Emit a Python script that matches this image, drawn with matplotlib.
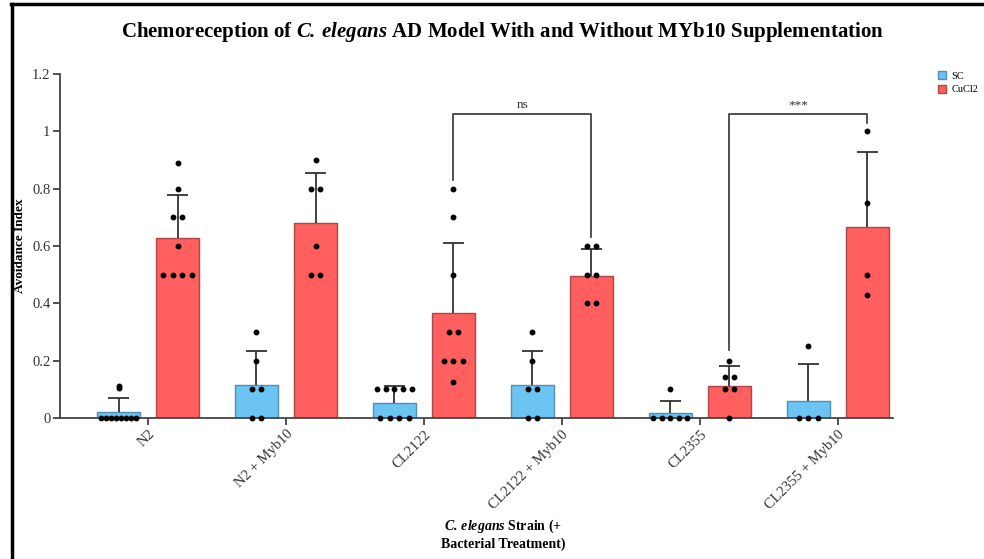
import matplotlib.pyplot as plt
from matplotlib.lines import Line2D
from matplotlib.patches import Patch

plt.rcParams['font.family'] = ['Liberation Serif', 'DejaVu Serif']
plt.rcParams['mathtext.fontset'] = 'custom'
plt.rcParams['mathtext.rm'] = 'Liberation Serif'
plt.rcParams['mathtext.it'] = 'Liberation Serif:italic'
plt.rcParams['mathtext.bf'] = 'Liberation Serif:bold'
plt.rcParams['mathtext.bfit'] = 'Liberation Serif:italic:bold'

# 数据
strains = ['N2', 'N2 + Myb10', 'CL2122', 'CL2122 + Myb10', 'CL2355', 'CL2355 + Myb10']
sc_mean = [0.02, 0.114, 0.053, 0.114, 0.016, 0.06]
sc_err = [0.05, 0.12, 0.057, 0.12, 0.042, 0.128]
cu_mean = [0.627, 0.679, 0.367, 0.496, 0.113, 0.668]
cu_err = [0.152, 0.174, 0.242, 0.092, 0.07, 0.26]
sc_dots = [
    [0, 0, 0, 0, 0, 0, 0, 0, 0.105, 0.11],
    [0.3, 0.2, 0.1, 0.1, 0, 0],
    [0.1, 0.1, 0.1, 0.1, 0.1, 0, 0, 0, 0],
    [0.3, 0.2, 0.1, 0.1, 0, 0],
    [0.1, 0, 0, 0, 0, 0],
    [0.25, 0, 0, 0],
]
cu_dots = [
    [0.89, 0.8, 0.7, 0.7, 0.6, 0.5, 0.5, 0.5, 0.5],
    [0.9, 0.8, 0.8, 0.6, 0.5, 0.5],
    [0.8, 0.7, 0.5, 0.3, 0.3, 0.2, 0.2, 0.2, 0.125],
    [0.6, 0.6, 0.5, 0.5, 0.4, 0.4],
    [0.2, 0.143, 0.143, 0.1, 0.1, 0],
    [1.0, 0.75, 0.5, 0.43],
]
# 显著性标记: (左组, 左系列, 右组, 右系列, 高度, 左脚, 右脚, 文字)
sig = [
    (2, 1, 3, 1, 1.06, 0.83, 0.632, 'ns'),
    (4, 1, 5, 1, 1.06, 0.237, 1.03, '***'),
]

blue = '#6cc4f2'
red = '#ff5f5f'
w = 0.31
off = 0.214
cap = 0.075

fig = plt.figure(figsize=(9.84, 5.59), dpi=100)
ax = fig.add_axes([0.061, 0.2522, 0.8465, 0.6154])

x = list(range(len(strains)))
xs = [i - off for i in x]
xc = [i + off for i in x]
ax.bar(xs, sc_mean, width=w, color=blue, edgecolor='#4f8fb5', linewidth=1, zorder=2)
ax.bar(xc, cu_mean, width=w, color=red, edgecolor='#a84848', linewidth=1, zorder=2)

# 误差线 (只画上半部分)
for pos, m, e in zip(xs + xc, sc_mean + cu_mean, sc_err + cu_err):
    ax.vlines(pos, m, m + e, color='#333333', lw=1.3, zorder=3)
    ax.hlines(m + e, pos - cap, pos + cap, color='#333333', lw=1.3, zorder=3)


def draw_dots(center, vals):
    groups = {}
    for v in vals:
        groups[v] = groups.get(v, 0) + 1
    for v, n in groups.items():
        step = 0.07
        if n > 1:
            step = min(step, w * 0.8 / (n - 1))
        for k in range(n):
            ax.plot(center + (k - (n - 1) / 2) * step, v, 'o', color='black',
                    markersize=3.2, zorder=4, clip_on=False)


for i in x:
    draw_dots(xs[i], sc_dots[i])
    draw_dots(xc[i], cu_dots[i])

for g1, s1, g2, s2, h, l1, l2, txt in sig:
    x1 = g1 + (off if s1 else -off)
    x2 = g2 + (off if s2 else -off)
    ax.plot([x1, x1, x2, x2], [l1, h, h, l2], color='#333333', lw=1.2, zorder=3,
            clip_on=False)
    ax.text((x1 + x2) / 2, h + 0.01, txt, ha='center', va='bottom', fontsize=9.5,
            color='#333333')

ax.set_xlim(-0.638, 5.4)
ax.set_ylim(0, 1.2)
ax.set_yticks([0, 0.2, 0.4, 0.6, 0.8, 1, 1.2])
ax.set_yticklabels(['0', '0.2', '0.4', '0.6', '0.8', '1', '1.2'])
ax.set_xticks(x)
ax.set_xticklabels(strains, rotation=45, ha='right', rotation_mode='anchor')
ax.tick_params(labelsize=10.5, colors='#333333', length=5, width=1.2, pad=2)
for s in ['top', 'right']:
    ax.spines[s].set_visible(False)
for s in ['left', 'bottom']:
    ax.spines[s].set_color('#444444')
    ax.spines[s].set_linewidth(1.3)

ax.set_ylabel('Avoidance Index', fontsize=9.5, fontweight='bold')
ax.yaxis.set_label_coords(-0.041, 0.5)
fig.text(0.511, 0.014, '$\\mathbfit{C.\\:elegans}$ Strain (+\nBacterial Treatment)',
         ha='center', va='bottom', fontsize=10, fontweight='bold', linespacing=1.3)
fig.text(0.511, 0.943,
         'Chemoreception of $\\mathbfit{C.\\:elegans}$ AD Model With and Without MYb10 Supplementation',
         ha='center', va='center', fontsize=15, fontweight='bold')

handles = [Patch(facecolor=blue, edgecolor='#4f8fb5'), Patch(facecolor=red, edgecolor='#a84848')]
fig.legend(handles, ['SC', 'CuCl2'], loc='upper left', bbox_to_anchor=(0.953, 0.873),
           frameon=False, fontsize=7.5, handlelength=0.8, handleheight=0.8,
           handletextpad=0.5, labelspacing=0.4, borderaxespad=0, borderpad=0)

# 外框
fig.add_artist(Line2D([0.011, 1], [0.993, 0.993], color='black', lw=2.5))
fig.add_artist(Line2D([0.012, 0.012], [0, 0.993], color='black', lw=2.5))

fig.savefig('out.png', dpi=100)
